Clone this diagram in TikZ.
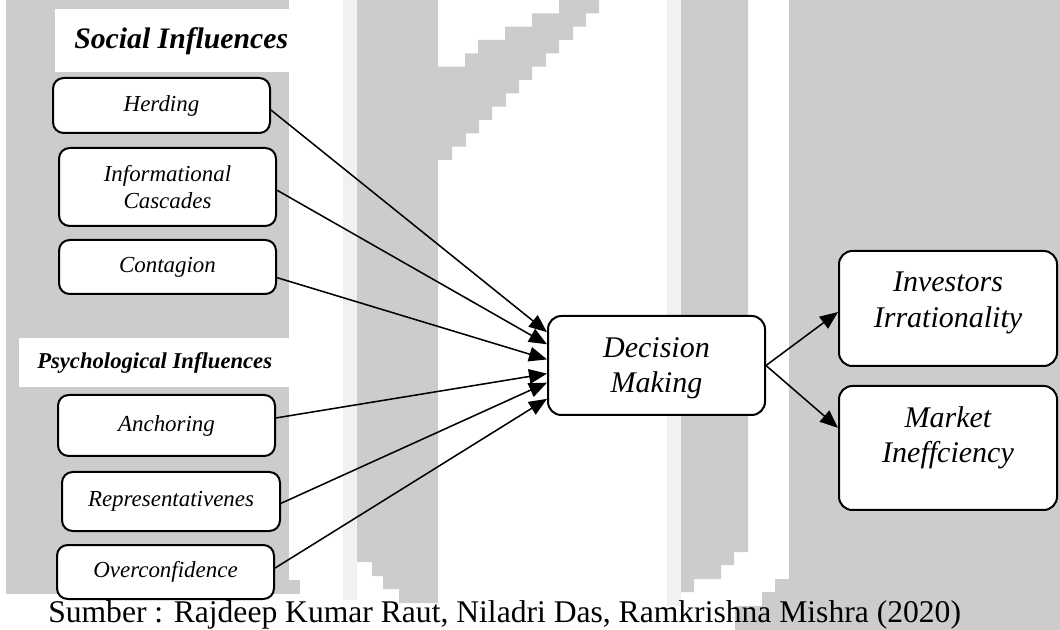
\documentclass[tikz,border=0pt]{standalone}
\usepackage{fontspec}
\setmainfont{Liberation Serif}
\usetikzlibrary{arrows.meta,calc}
\definecolor{wmgray}{HTML}{CCCCCC}
\definecolor{wmlight}{HTML}{F1F1F1}

\tikzset{
  pbox/.style={draw, line width=1.5pt, rounded corners=8pt, fill=white, inner sep=0pt,
               font=\fontsize{17.2}{20.25}\selectfont\itshape, align=center},
  bbox/.style={draw, line width=1.5pt, rounded corners=10pt, fill=white, inner sep=0pt},
  bigtext/.style={font=\fontsize{22.5}{26.5}\selectfont\itshape, align=center, inner sep=0pt},
  grouphead/.style={anchor=base west, inner sep=0pt, font=\bfseries\itshape},
  link/.style={line width=1.15pt, -{Triangle[length=13.5pt,width=11pt]}},
}

\begin{document}
\begin{tikzpicture}[x=0.75pt,y=-0.75pt]
\useasboundingbox (0,0) rectangle (1060,630);
\fill[white] (0,0) rectangle (1060,630);

% ---- background emblem blocks ----
\fill[wmgray] (6,0) rectangle (289,594);
\fill[wmgray] (277,580) rectangle (300,594);
\fill[wmlight] (343,0) rectangle (357,600);
\fill[wmgray] (357,0) -- (438,0) -- (438,603) -- (399,603) -- (399,589) -- (383,589)
  -- (383,576) -- (372,576) -- (372,562) -- (357,562) -- cycle;
\fill[wmgray] (438,66.7) -- (465,66.7) -- (465,53.3) -- (478,53.3) -- (478,40) -- (505,40)
  -- (505,26.7) -- (532,26.7) -- (532,13.3) -- (559,13.3) -- (559,0) -- (599,0)
  -- (599,13.3) -- (586,13.3) -- (586,26.7) -- (573,26.7) -- (573,40) -- (559,40)
  -- (559,53.3) -- (546,53.3) -- (546,66.7) -- (532,66.7) -- (532,80) -- (519,80)
  -- (519,93.3) -- (506,93.3) -- (506,106.7) -- (492,106.7) -- (492,120) -- (479,120)
  -- (479,133.3) -- (466,133.3) -- (466,146.7) -- (452,146.7) -- (452,160) -- (438,160) -- cycle;
\fill[wmlight] (667,0) rectangle (681,606);
\fill[wmgray] (681,0) -- (748,0) -- (748,552) -- (734,552) -- (734,565) -- (721,565)
  -- (721,579) -- (694,579) -- (694,592) -- (681,592) -- cycle;
\fill[wmgray] (789,0) -- (1060,0) -- (1060,630) -- (735,630) -- (735,606) -- (762,606)
  -- (762,592) -- (775,592) -- (775,579) -- (789,579) -- cycle;

% ---- group headings ----
\fill[white] (55,9) rectangle (289,72);
\fill[white] (19,338) rectangle (289,387);
\node[grouphead, font=\fontsize{22.3}{26}\selectfont\bfseries\itshape] (soc) at (74,49) {Social Influences};
\node[grouphead, font=\fontsize{17}{20}\selectfont\bfseries\itshape] (psy) at (37,369) {Psychological Influences};

% ---- factor boxes ----
\node[pbox, minimum width=162.75pt, minimum height=41.25pt] (her) at (161.5,105.5) {Herding};
\node[pbox, minimum width=162.75pt, minimum height=58.5pt]  (inf) at (167.5,187)   {Informational\\Cascades};
\node[pbox, minimum width=162.75pt, minimum height=40.5pt]  (con) at (167.5,267)   {Contagion};
\node[pbox, minimum width=162.75pt, minimum height=45.75pt] (anc) at (166.5,425.5) {Anchoring};
\node[pbox, minimum width=163.5pt,  minimum height=44.25pt] (rep) at (171,501.5)   {Representativenes};
\node[pbox, minimum width=162.75pt, minimum height=40.5pt]  (ovc) at (165.5,572)   {Overconfidence};

% ---- central and outcome boxes ----
\node[bbox, minimum width=162.75pt, minimum height=74.25pt] (dm) at (656.5,365.5) {};
\node[bigtext] (dmt) at (656.5,368) {Decision\\Making};
\node[bbox, minimum width=163.5pt, minimum height=86.25pt] (inv) at (948,308.5) {};
\node[bigtext] (invt) at (948,303) {Investors\\Irrationality};
\node[bbox, minimum width=163.5pt, minimum height=93pt] (mkt) at (948,448) {};
\node[bigtext] (mktt) at (948,438) {Market\\Ineffciency};

% ---- connectors ----
\draw[link] ($(her.north east)!0.58!(her.south east)$) -- ($(dm.north west)!0.17!(dm.south west)$);
\draw[link] ($(inf.north east)!0.54!(inf.south east)$) -- ($(dm.north west)!0.29!(dm.south west)$);
\draw[link] ($(con.north east)!0.69!(con.south east)$) -- ($(dm.north west)!0.44!(dm.south west)$);
\draw[link] ($(anc.north east)!0.38!(anc.south east)$) -- ($(dm.north west)!0.58!(dm.south west)$);
\draw[link] ($(rep.north east)!0.53!(rep.south east)$) -- ($(dm.north west)!0.67!(dm.south west)$);
\draw[link] ($(ovc.north east)!0.43!(ovc.south east)$) -- ($(dm.north west)!0.83!(dm.south west)$);
\draw[link] (dm.east) -- ($(inv.north west)!0.53!(inv.south west)$);
\draw[link] (dm.east) -- ($(mkt.north west)!0.34!(mkt.south west)$);

% ---- source line ----
\node[anchor=base west, inner sep=0pt, font=\fontsize{23.7}{28}\selectfont] (src) at (48,622)
  {Sumber : Rajdeep Kumar Raut, Niladri Das, Ramkrishna Mishra (2020)};
\end{tikzpicture}
\end{document}
